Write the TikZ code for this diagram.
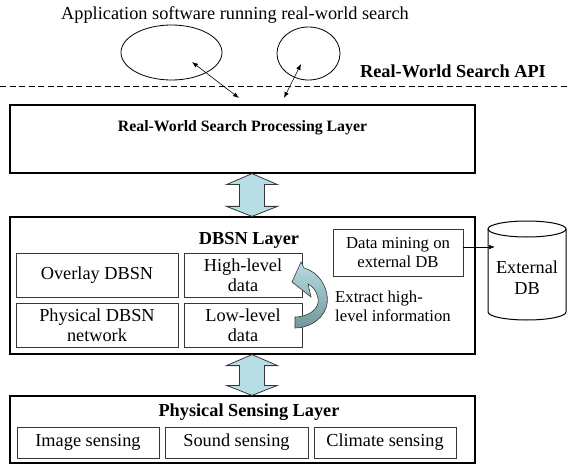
\documentclass[tikz,border=0pt]{standalone}
\usepackage{fontspec}
\setmainfont{Liberation Serif}
\usetikzlibrary{calc, shapes.geometric, arrows.meta}
\definecolor{capacian}{RGB}{183, 222, 228}
\definecolor{capagris}{RGB}{112, 150, 155}
\definecolor{bordegris}{RGB}{55, 55, 55}

\tikzset{
    capa/.style={draw=black, line width=1.2pt, minimum width=465pt, inner sep=0pt},
    caja/.style={draw=bordegris, line width=0.7pt, inner sep=0pt, align=center},
    titulo/.style={font=\fontsize{18.3}{20.5}\selectfont\bfseries},
    chico/.style={font=\fontsize{16.7}{19.5}\selectfont},
    flechacapa/.style={draw=bordegris, line width=0.8pt, fill=capacian},
    flechita/.style={line width=0.6pt, <->, >={Latex[length=6pt, width=4.5pt]}},
}

\begin{document}
\begin{tikzpicture}[x=1pt, y=1pt, font=\fontsize{18.3}{20.5}\selectfont]
\useasboundingbox (0,0) rectangle (567,464);

% === Aplicaciones y API ===
\node (apptit) at (235,449) {Application software running real-world search};
\node[draw, ellipse, line width=0.8pt, minimum width=101pt, minimum height=55pt, inner sep=0pt] (app1) at (171.5,411.5) {};
\node[draw, ellipse, line width=0.8pt, minimum width=63pt, minimum height=53pt, inner sep=0pt] (app2) at (308.5,410.5) {};

% Flechas hacia la API
\coordinate (in1) at (192,402);
\coordinate (api1) at (239,366);
\coordinate (in2) at (301,400);
\coordinate (api2) at (284,366);
\draw[flechita] (in1) -- (api1);
\draw[flechita] (in2) -- (api2);

% Linea de la API
\draw[line width=0.7pt, dash pattern=on 6pt off 3.5pt] (0,378) -- (567,378);
\node[titulo] (api) at (453,393) {Real-World Search API};

% === Capa de procesamiento ===
\node[capa, minimum height=68pt] (proc) at (242.5,325) {};
\node[titulo, font=\fontsize{15.8}{18}\selectfont\bfseries] (proctit) at (242.5,336) {Real-World Search Processing Layer};

% === Capa DBSN ===
\node[capa, minimum height=137pt] (dbsn) at (242.5,178.5) {};
\node[titulo] (dbsntit) at (249,224) {DBSN Layer};
\node[caja, chico, minimum width=130pt, minimum height=47pt] (mining) at (398,211.5) {Data mining on\\external DB};
\node[caja, minimum width=162pt, minimum height=44pt] (overlay) at (97,189) {Overlay DBSN};
\node[caja, minimum width=118pt, minimum height=44pt] (high) at (243,189) {High-level\\data};
\node[caja, minimum width=162pt, minimum height=44pt] (physnet) at (97,139) {Physical DBSN\\network};
\node[caja, minimum width=118pt, minimum height=44pt] (low) at (243,139) {Low-level\\data};
\node[chico, anchor=west, align=left, inner sep=0pt] (extract) at (335,157.5) {Extract high-\\level information};

% Flecha curva (bajo nivel -> alto nivel)
\draw[bordegris, line width=0.6pt, top color=capacian, bottom color=capagris]
    (292,182) -- (301,202) -- (304,196)
    .. controls (322,191) and (331,170) .. (326,156)
    .. controls (321,142) and (306,136) .. (295,136)
    -- (295,147)
    .. controls (305,147) and (316,152) .. (318,161)
    .. controls (319,169) and (315,176) .. (308,180)
    -- (311,167) -- cycle;

% === Base de datos externa ===
\draw[line width=1pt] (488,235) -- (488,152)
    arc[start angle=180, end angle=360, x radius=39, y radius=8] -- (566,235);
\draw[line width=1pt] (527,235) ellipse [x radius=39, y radius=8];
\node[align=center] (extdb) at (527,186.5) {External\\DB};
\coordinate (pared) at (488,0);
\draw[line width=0.6pt, -{Latex[length=6pt, width=4.5pt]}, shorten >=-7pt]
    ([yshift=5.5pt]mining.east) -- ([yshift=5.5pt]mining.east -| pared);

% === Capa de sensado fisico ===
\node[capa, minimum height=67pt] (phys) at (242.5,34.5) {};
\node[titulo] (phystit) at (249,52) {Physical Sensing Layer};
\node[caja, minimum width=142pt, minimum height=31pt] (image) at (88,21.5) {Image sensing};
\node[caja, minimum width=143pt, minimum height=31pt] (sound) at (236.5,21.5) {Sound sensing};
\node[caja, minimum width=142pt, minimum height=31pt] (climate) at (385,21.5) {Climate sensing};

% === Flechas entre capas ===
\coordinate (eje) at (252,0);
\foreach \a/\b in {proc/dbsn, dbsn/phys} {
    \coordinate (t) at (\a.south -| eje);
    \coordinate (u) at (\b.north -| eje);
    \filldraw[flechacapa] (t) -- ($(t)+(25.5,-11)$) -- ($(t)+(12.5,-11)$)
        -- ($(u)+(12.5,10)$) -- ($(u)+(25.5,10)$) -- (u)
        -- ($(u)+(-25.5,10)$) -- ($(u)+(-12.5,10)$)
        -- ($(t)+(-12.5,-11)$) -- ($(t)+(-25.5,-11)$) -- cycle;
}

\end{tikzpicture}
\end{document}
